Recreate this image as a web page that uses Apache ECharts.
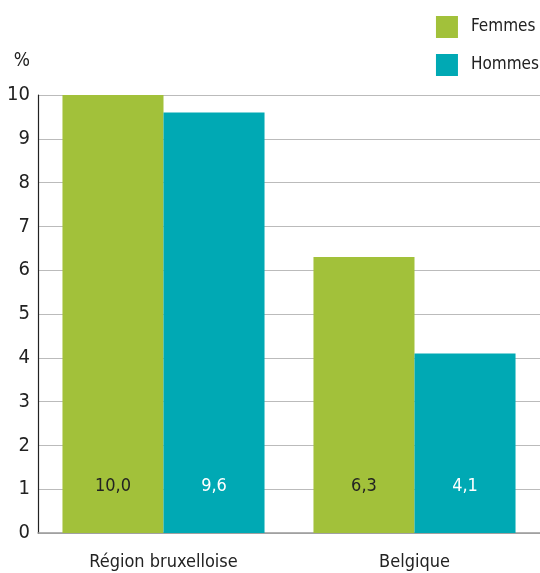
<!DOCTYPE html>
<html><head><meta charset="utf-8">
<script src="https://cdn.jsdelivr.net/npm/echarts@6/dist/echarts.min.js"></script>
<style>html,body{margin:0;padding:0;background:#fff}#c{width:540px;height:573px}</style>
</head><body><div id="c"></div>
<script>
const categories = ['Région bruxelloise', 'Belgique'];
const femmes = [10.0, 6.3];
const hommes = [9.6, 4.1];
const yTicks = [0,1,2,3,4,5,6,7,8,9,10];
const FONT = '"DejaVu Sans Condensed", "Liberation Sans Narrow", sans-serif';
const fmt = p => p.value.toFixed(1).replace('.', ',');
const chart = echarts.init(document.getElementById('c'));
chart.setOption({
  animation: false,
  textStyle: {fontFamily: FONT},
  legend: {
    orient: 'vertical', right: -4, top: 11, itemWidth: 22, itemHeight: 22, itemGap: 16,
    icon: 'rect',
    textStyle: {fontFamily: FONT, fontSize: 17, color: '#222', padding: [0,0,0,8]},
    data: ['Femmes', 'Hommes']
  },
  grid: {left: 38, right: 0, top: 95, bottom: 40},
  xAxis: {
    type: 'category', data: categories,
    axisLine: {lineStyle: {color: '#999', width: 1.5}},
    axisTick: {show: false},
    axisLabel: {fontFamily: FONT, fontSize: 18, color: '#222', margin: 20}
  },
  yAxis: {
    type: 'value', min: yTicks[0], max: yTicks[yTicks.length-1], interval: 1,
    name: '%', nameLocation: 'end', nameGap: 24,
    nameTextStyle: {fontFamily: FONT, fontSize: 19, color: '#222', align: 'right', padding: [0, 8, 0, 0]},
    axisLine: {show: true, lineStyle: {color: '#222', width: 1.2}},
    axisTick: {show: false},
    axisLabel: {fontFamily: FONT, fontSize: 20, color: '#222', margin: 8},
    splitLine: {lineStyle: {color: '#bbb', width: 1.2}}
  },
  series: [
    {name: 'Femmes', type: 'bar', data: femmes, barGap: '0%', barCategoryGap: '19.5%',
     itemStyle: {color: '#A2C13A'},
     label: {show: true, position: 'insideBottom', distance: 38, formatter: fmt,
             fontFamily: FONT, fontSize: 18, color: '#222'}},
    {name: 'Hommes', type: 'bar', data: hommes, barGap: '0%', barCategoryGap: '19.5%',
     itemStyle: {color: '#00A9B4'},
     label: {show: true, position: 'insideBottom', distance: 38, formatter: fmt,
             fontFamily: FONT, fontSize: 18, color: '#fff'}}
  ]
});
</script></body></html>
